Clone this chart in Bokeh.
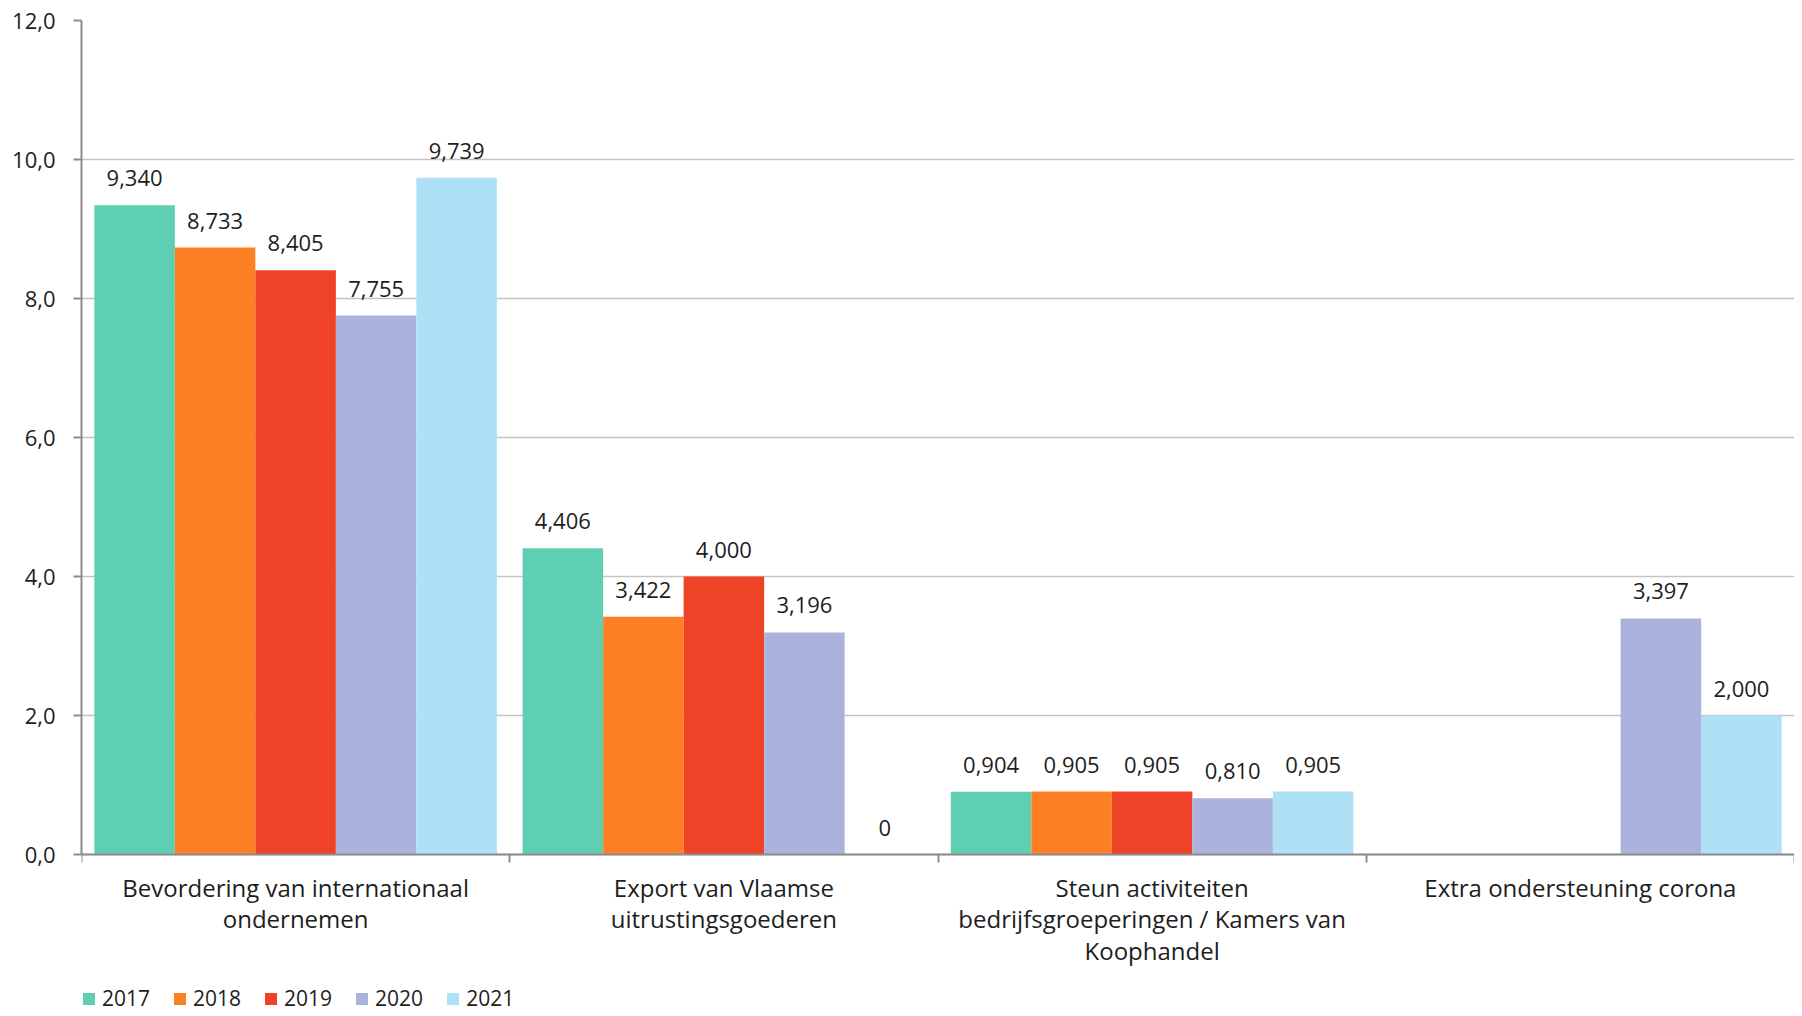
import math
from bokeh.plotting import figure
from bokeh.models import (ColumnDataSource, Range1d, FixedTicker, Legend, LegendItem)
from bokeh.core.properties import value
from bokeh.embed import file_html
from bokeh.resources import INLINE

categories = [
    "Bevordering van internationaal\nondernemen",
    "Export van Vlaamse\nuitrustingsgoederen",
    "Steun activiteiten\nbedrijfsgroeperingen / Kamers van\nKoophandel",
    "Extra ondersteuning corona",
]
years = ["2017", "2018", "2019", "2020", "2021"]
v2017 = [9.340, 4.406, 0.904, None]
v2018 = [8.733, 3.422, 0.905, None]
v2019 = [8.405, 4.000, 0.905, None]
v2020 = [7.755, 3.196, 0.810, 3.397]
v2021 = [9.739, 0.000, 0.905, 2.000]
series = [v2017, v2018, v2019, v2020, v2021]
colors = ["#5ECFB3", "#FD8124", "#EF4327", "#AAB2DD", "#AEE0F6"]
y_ticks = [0, 2, 4, 6, 8, 10, 12]

FONT = "Open Sans"
TXT = "#1E1E1E"
bar_w = 0.188

PLOT_H = 834      # pixels from 0 to 12
EXTRA_H = 158     # room below the zero line for labels and legend
y_max = 12
y_min = -y_max * EXTRA_H / PLOT_H

p = figure(frame_width=1713, frame_height=PLOT_H + EXTRA_H, output_backend="svg",
           toolbar_location=None,
           x_range=Range1d(0, len(categories)), y_range=Range1d(y_min, y_max),
           min_border_left=81, min_border_top=20, min_border_right=0,
           min_border_bottom=0)
p.outline_line_color = None
p.background_fill_color = "white"
p.border_fill_color = "white"

legend_items = []
for j, (yr, vals, col) in enumerate(zip(years, series, colors)):
    xs, tops, lx, ly, lt = [], [], [], [], []
    for i, v in enumerate(vals):
        xc = i + 0.5 + (j - 2) * bar_w
        if v is None:
            continue
        xs.append(xc)
        tops.append(v)
        lx.append(xc)
        ly.append(v)
        lt.append("0" if v == 0 else f"{v:.3f}".replace(".", ","))
    src = ColumnDataSource(dict(x=xs, top=tops))
    r = p.vbar(x="x", top="top", bottom=0, width=bar_w, source=src,
               fill_color=col, line_color=None)
    legend_items.append(LegendItem(label=yr, renderers=[r]))
    lsrc = ColumnDataSource(dict(x=lx, y=ly, t=lt))
    p.text(x="x", y="y", text="t", source=lsrc, text_align="center",
           text_baseline="alphabetic", y_offset=-27, text_font=value(FONT),
           text_font_size="22px", text_color=TXT)

# y axis
p.yaxis.ticker = FixedTicker(ticks=y_ticks)
p.yaxis.bounds = (0, y_max)
p.yaxis.major_label_overrides = {t: f"{t:.1f}".replace(".", ",") for t in y_ticks}
p.yaxis.major_label_text_font = FONT
p.yaxis.major_label_text_font_size = "22px"
p.yaxis.major_label_text_color = TXT
p.yaxis.axis_line_color = "#8C8C8C"
p.yaxis.axis_line_width = 2
p.yaxis.major_tick_line_color = "#8C8C8C"
p.yaxis.major_tick_line_width = 2
p.yaxis.major_tick_in = 0
p.yaxis.major_tick_out = 8
p.yaxis.minor_tick_line_color = None
p.yaxis.major_label_standoff = 18

# x axis, drawn on the zero line
p.xaxis.fixed_location = 0
p.xaxis.ticker = FixedTicker(ticks=[i + 0.5 for i in range(len(categories))],
                             minor_ticks=list(range(len(categories) + 1)))
p.xaxis.major_label_overrides = {i + 0.5: c for i, c in enumerate(categories)}
p.xaxis.major_label_text_font = FONT
p.xaxis.major_label_text_font_size = "24px"
p.xaxis.major_label_text_color = TXT
p.xaxis.major_label_text_line_height = 0.96
p.xaxis.axis_line_color = "#8C8C8C"
p.xaxis.axis_line_width = 2
p.xaxis.major_tick_line_color = None
p.xaxis.major_tick_out = 0
p.xaxis.major_tick_in = 0
p.xaxis.minor_tick_line_color = "#8C8C8C"
p.xaxis.minor_tick_line_width = 2
p.xaxis.minor_tick_in = 0
p.xaxis.minor_tick_out = 8
p.xaxis.major_label_standoff = 8

p.xgrid.grid_line_color = None
p.ygrid.ticker = FixedTicker(ticks=y_ticks)
p.ygrid.grid_line_color = "#C4C4C4"
p.ygrid.grid_line_width = 1.5

legend = Legend(items=legend_items, orientation="horizontal", location=(0, 0),
                label_text_font=FONT, label_text_font_size="21px",
                label_text_color=TXT, glyph_width=15, glyph_height=15,
                label_standoff=6, spacing=22, padding=0, margin=0,
                border_line_color=None, background_fill_alpha=0)
p.add_layout(legend, "center")

open("out.html", "w").write(file_html(p, INLINE))
